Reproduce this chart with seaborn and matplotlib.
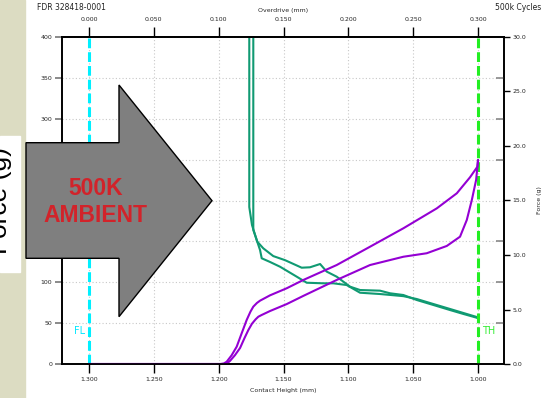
import matplotlib
matplotlib.use('Agg')
import matplotlib.pyplot as plt
import pandas as pd
import seaborn as sns
from matplotlib.patches import Polygon, Rectangle
from matplotlib.ticker import FormatStrFormatter, FixedLocator, MultipleLocator

sns.set_theme(style='white')
plt.rcParams['font.family'] = ['DejaVu Sans']

W, H = 541, 398

# resistance curves (left axis), contact height in mm
res_a_height = [1.1733, 1.1733, 1.1702, 1.1656, 1.1579, 1.1488, 1.1360, 1.1296, 1.1218, 1.1167, 1.1090,
                1.0987, 1.0910, 1.0756, 1.0679, 1.0576, 1.0473, 1.0345, 1.0216, 1.0113, 1.0010, 1.000]
res_a_value = [1000, 164, 149.6, 141.5, 132, 127, 117.8, 118.3, 122.3, 113, 106.8,
               94.6, 90.5, 89.7, 86.5, 84.4, 78.3, 72.2, 66, 61.2, 56.6, 55.7]
res_b_height = [1.1764, 1.1764, 1.1743, 1.1707, 1.1681, 1.1668, 1.1604, 1.1527, 1.1398, 1.1321, 1.1193,
                1.1116, 1.1013, 1.0910, 1.0756, 1.0576, 1.0473, 1.0345, 1.0216, 1.0113, 1.0010, 1.000]
res_b_value = [1000, 192, 170, 151.7, 139.4, 129.3, 124.8, 119, 106.8, 99.4, 98.7,
               98.7, 96.6, 87.2, 85.6, 83, 79.5, 73.4, 67.3, 62.4, 57.5, 56.3]

# force curves (right axis, g)
force_up_height = [1.300, 1.1985, 1.1960, 1.1938, 1.1900, 1.1861, 1.1820, 1.1784, 1.1755, 1.1733, 1.1705,
                   1.1681, 1.1604, 1.1475, 1.1347, 1.1090, 1.0833, 1.0576, 1.0318, 1.0164, 1.0062,
                   1.0005, 1.000]
force_up_value = [0, 0, 0.05, 0.21, 0.8, 1.59, 2.9, 4.04, 4.8, 5.26, 5.6,
                  5.81, 6.3, 6.95, 7.71, 9.08, 10.76, 12.45, 14.28, 15.66, 17.13,
                  18.10, 18.72]
force_lo_height = [1.300, 1.1960, 1.1935, 1.1913, 1.1875, 1.1835, 1.1800, 1.1771, 1.1743, 1.1715, 1.1694,
                   1.1668, 1.1604, 1.1475, 1.1347, 1.1090, 1.0833, 1.0576, 1.0396, 1.0241, 1.0139,
                   1.0087, 1.0048, 1.0015, 1.000]
force_lo_value = [0, 0, 0.06, 0.28, 0.8, 1.47, 2.4, 3.12, 3.7, 4.1, 4.34,
                  4.5, 4.86, 5.5, 6.25, 7.71, 9.08, 9.84, 10.16, 10.83, 11.68,
                  13.21, 15.05, 16.88, 18.72]

height_ticks = [1.30, 1.25, 1.20, 1.15, 1.10, 1.05, 1.00]
overdrive_ticks = [0.0, 0.05, 0.10, 0.15, 0.20, 0.25, 0.30]

GREEN = '#109a72'
PURPLE = '#9400d3'
TICK_FS = 4.5


def fx(px):
    return px / W


def fy(py):
    return 1 - py / H


fig = plt.figure(figsize=(W / 100, H / 100), dpi=100)
fig.add_artist(Rectangle((0, 0), fx(25), 1, transform=fig.transFigure, color='#dcdcc2', zorder=-1))

ax = fig.add_axes([fx(62), fy(364), fx(504 - 62), (364 - 37) / H])
ax.set_facecolor('white')

for h, v in [(res_a_height, res_a_value), (res_b_height, res_b_value)]:
    df = pd.DataFrame({'height': h, 'value': v})
    sns.lineplot(data=df, x='height', y='value', ax=ax, sort=False, estimator=None,
                 color=GREEN, lw=1.5)

ax.set_xlim(1.3208, 0.980)
ax.set_ylim(0, 400)
ax.set_xticks(height_ticks)
ax.xaxis.set_major_formatter(FormatStrFormatter('%.3f'))
ax.yaxis.set_major_locator(MultipleLocator(50))
ax.grid(True, color='#c8c8c8', linestyle=(0, (1, 2)), lw=0.8)
ax.set_xlabel('Contact Height (mm)', fontsize=TICK_FS, labelpad=4)
ax.set_ylabel('')
ax.tick_params(axis='x', direction='out', length=6.5, width=1, color='black',
               labelsize=TICK_FS, pad=3, bottom=True)
ax.tick_params(axis='y', direction='out', length=5, width=1.2, color='#777777',
               labelsize=TICK_FS, pad=2, left=True)
for s in ax.spines.values():
    s.set_color('black')
    s.set_linewidth(1.2)

ax.axvline(1.300, color='#00f0ff', lw=2.2, ls=(0, (3.2, 1.3)), zorder=3)
ax.axvline(1.000, color='#22ee22', lw=2.2, ls=(0, (3.2, 1.3)), zorder=3)
ax.text(1.3031, 40, 'FL', color='#00e8ff', fontsize=7, ha='right', va='center')
ax.text(0.9969, 40, 'TH', color='#33ee33', fontsize=7, ha='left', va='center')

secax = ax.secondary_xaxis('top', functions=(lambda x: 1.3 - x, lambda x: 1.3 - x))
secax.set_xticks(overdrive_ticks)
secax.xaxis.set_major_formatter(FormatStrFormatter('%.3f'))
secax.tick_params(direction='out', length=7, width=1, color='black', labelsize=TICK_FS, pad=3.5)
secax.set_xlabel('Overdrive (mm)', fontsize=TICK_FS, labelpad=4)

ax2 = ax.twinx()
for h, v in [(force_up_height, force_up_value), (force_lo_height, force_lo_value)]:
    df = pd.DataFrame({'height': h, 'force': v})
    sns.lineplot(data=df, x='height', y='force', ax=ax2, sort=False, estimator=None,
                 color=PURPLE, lw=1.5)
ax2.set_ylim(0, 30)
ax2.yaxis.set_major_locator(MultipleLocator(5))
ax2.yaxis.set_major_formatter(FormatStrFormatter('%.1f'))
ax2.yaxis.set_minor_locator(FixedLocator([3.75 * k for k in range(1, 8)]))
ax2.tick_params(axis='y', which='major', direction='out', length=4, width=1, color='black',
                labelsize=TICK_FS, pad=2, right=True)
ax2.tick_params(axis='y', which='minor', direction='in', length=6, width=1.2, color='#888888', right=True)
ax2.set_ylabel('Force (g)', fontsize=TICK_FS, labelpad=8)
ax2.set_xlabel('')
for s in ax2.spines.values():
    s.set_color('black')
    s.set_linewidth(1.2)

fig.text(fx(37), fy(7), 'FDR 328418-0001', fontsize=5.5, ha='left', va='center', color='#222222')
fig.text(fx(541), fy(7), '500k Cycles', fontsize=5.5, ha='right', va='center', color='#222222')

# big arrow overlay
arrow_pts = [(26, 142.7), (119, 142.7), (119, 85), (212, 200.7), (119, 316.7), (119, 258.3), (26, 258.3)]
fig.add_artist(Polygon([(fx(x), fy(y)) for x, y in arrow_pts], closed=True, transform=fig.transFigure,
                       facecolor='#7f7f7f', edgecolor='black', lw=1, zorder=10))
fig.text(fx(95.5), fy(188), '500K', fontsize=16.5, fontweight='bold', color='#d2232a',
         family=['Liberation Sans'], ha='center', va='center', zorder=11)
fig.text(fx(95), fy(216), 'AMBIENT', fontsize=16.5, fontweight='bold', color='#d2232a',
         family=['Liberation Sans'], ha='center', va='center', zorder=11)

# side label on a white card at the left edge
fig.add_artist(Rectangle((0, fy(272)), fx(20), (272 - 136) / H, transform=fig.transFigure,
                         color='white', zorder=10))
fig.text(fx(12.5), fy(201), 'Force (g)', fontsize=19, rotation=90, family=['Liberation Sans'],
         ha='right', va='center', color='black', zorder=11)

fig.savefig('out.png', dpi=100)
